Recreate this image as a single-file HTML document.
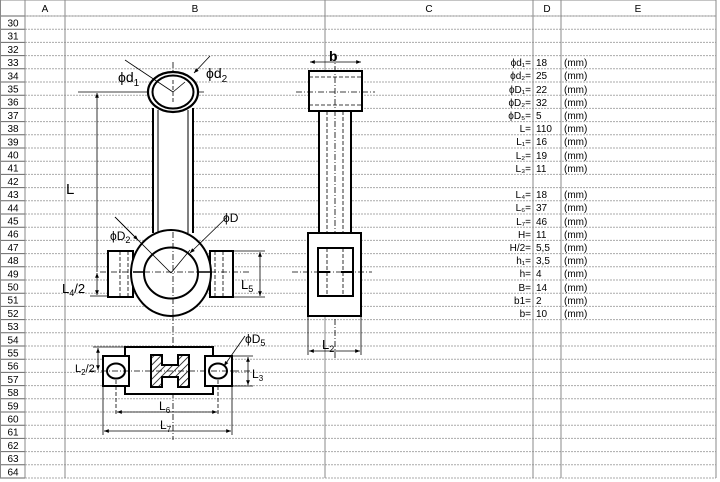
<!DOCTYPE html>
<html><head><meta charset="utf-8"><style>
body{margin:0;background:#fff}
svg{display:block;font-family:"Liberation Sans",Arial,sans-serif}
</style></head><body>
<svg width="720" height="482" viewBox="0 0 720 482" xmlns="http://www.w3.org/2000/svg">
<defs>
<marker id="a" viewBox="0 0 10 10" refX="10" refY="5" markerWidth="8" markerHeight="6" orient="auto-start-reverse"><path d="M0,1 L10,5 L0,9 z" fill="#000"/></marker>
<pattern id="h" width="5" height="5" patternUnits="userSpaceOnUse" patternTransform="rotate(45)"><line x1="0" y1="0" x2="0" y2="5" stroke="#000" stroke-width="1.5"/></pattern>
</defs>
<rect width="720" height="482" fill="#fff"/>
<!-- header -->
<rect x="0" y="0" width="716" height="16" fill="#fff" stroke="#888"/>
<g font-size="10" text-anchor="middle" fill="#000">
<text x="45" y="12">A</text><text x="195" y="12">B</text><text x="429" y="12">C</text><text x="547" y="12">D</text><text x="638" y="12">E</text>
</g>
<!-- row lines -->
<g id="rows" stroke="#aaa" stroke-width="1" stroke-dasharray="2,1">
</g>
<script>
var g=document.getElementById('rows'),ns='http://www.w3.org/2000/svg';
for(var i=0;i<=35;i++){var y=16+i*13.2;var l=document.createElementNS(ns,'line');l.setAttribute('x1',25);l.setAttribute('x2',716);l.setAttribute('y1',y);l.setAttribute('y2',y);g.appendChild(l);
var l2=document.createElementNS(ns,'line');l2.setAttribute('x1',0);l2.setAttribute('x2',25);l2.setAttribute('y1',y);l2.setAttribute('y2',y);l2.setAttribute('stroke','#666');l2.setAttribute('stroke-dasharray','none');g.appendChild(l2);
if(i<35){var t=document.createElementNS(ns,'text');t.setAttribute('x',13);t.setAttribute('y',y+10.5);t.setAttribute('font-size','10');t.setAttribute('text-anchor','middle');t.setAttribute('stroke','none');t.textContent=30+i;g.parentNode.appendChild(t);}}
</script>
<g stroke="#888" stroke-width="1">
<line x1="0.5" y1="0" x2="0.5" y2="478"/><line x1="25" y1="0" x2="25" y2="478"/><line x1="65" y1="0" x2="65" y2="478"/>
<line x1="325" y1="0" x2="325" y2="478"/><line x1="533" y1="0" x2="533" y2="478"/><line x1="561" y1="0" x2="561" y2="478"/>
<line x1="716" y1="0" x2="716" y2="478"/>
</g>
<!-- table -->
<g font-size="10" fill="#000">
<g text-anchor="end">
<text x="531" y="66">ϕd₁=</text><text x="531" y="79">ϕd₂=</text><text x="531" y="93">ϕD₁=</text><text x="531" y="106">ϕD₂=</text><text x="531" y="119">ϕD₅=</text>
<text x="531" y="132">L=</text><text x="531" y="145">L₁=</text><text x="531" y="159">L₂=</text><text x="531" y="172">L₃=</text>
<text x="531" y="198">L₄=</text><text x="531" y="211">L₆=</text><text x="531" y="225">L₇=</text><text x="531" y="238">H=</text><text x="531" y="251">H/2=</text>
<text x="531" y="264">h₁=</text><text x="531" y="277">h=</text><text x="531" y="291">B=</text><text x="531" y="304">b1=</text><text x="531" y="317">b=</text>
</g>
<g>
<text x="536" y="66">18</text><text x="536" y="79">25</text><text x="536" y="93">22</text><text x="536" y="106">32</text><text x="536" y="119">5</text>
<text x="536" y="132">110</text><text x="536" y="145">16</text><text x="536" y="159">19</text><text x="536" y="172">11</text>
<text x="536" y="198">18</text><text x="536" y="211">37</text><text x="536" y="225">46</text><text x="536" y="238">11</text><text x="536" y="251">5,5</text>
<text x="536" y="264">3,5</text><text x="536" y="277">4</text><text x="536" y="291">14</text><text x="536" y="304">2</text><text x="536" y="317">10</text>
</g>
<g>
<text x="564" y="66">(mm)</text><text x="564" y="79">(mm)</text><text x="564" y="93">(mm)</text><text x="564" y="106">(mm)</text><text x="564" y="119">(mm)</text>
<text x="564" y="132">(mm)</text><text x="564" y="145">(mm)</text><text x="564" y="159">(mm)</text><text x="564" y="172">(mm)</text>
<text x="564" y="198">(mm)</text><text x="564" y="211">(mm)</text><text x="564" y="225">(mm)</text><text x="564" y="238">(mm)</text><text x="564" y="251">(mm)</text>
<text x="564" y="264">(mm)</text><text x="564" y="277">(mm)</text><text x="564" y="291">(mm)</text><text x="564" y="304">(mm)</text><text x="564" y="317">(mm)</text>
</g>
</g>
<!-- front view -->
<g fill="none" stroke="#000">
<line x1="173" y1="62" x2="173" y2="440" stroke-dasharray="6,2,1,2" stroke-width="0.8"/>
<line x1="143" y1="92" x2="205" y2="92" stroke-dasharray="6,2,1,2" stroke-width="0.8"/>
<line x1="78" y1="92" x2="143" y2="92" stroke-width="0.8"/>
<rect x="153" y="108" width="40" height="125" fill="#fff" stroke="none"/>
<g stroke-width="2"><line x1="153" y1="108" x2="153" y2="233"/><line x1="193" y1="108" x2="193" y2="233"/></g>
<g stroke-width="1"><line x1="158" y1="110" x2="158" y2="233"/><line x1="188" y1="110" x2="188" y2="233"/></g>
<ellipse cx="173" cy="92" rx="25" ry="20" stroke-width="2.2" fill="#fff"/>
<ellipse cx="173" cy="92" rx="20.5" ry="16.5" stroke-width="2"/>
<line x1="173" y1="80" x2="173" y2="104" stroke-dasharray="4,2" stroke-width="0.8"/>
<line x1="125" y1="60" x2="173" y2="92" stroke-width="0.8"/>
<line x1="173" y1="92" x2="185" y2="82" stroke-width="0.8"/>
<line x1="210" y1="56" x2="194" y2="73" stroke-width="0.8" marker-end="url(#a)"/>
<!-- big end -->
<rect x="108" y="251" width="25" height="46" stroke-width="2" fill="#fff"/>
<rect x="210" y="251" width="23" height="46" stroke-width="2" fill="#fff"/>
<g stroke-dasharray="4,2" stroke-width="0.8"><line x1="120" y1="251" x2="120" y2="297"/><line x1="128" y1="251" x2="128" y2="297"/><line x1="215" y1="251" x2="215" y2="297"/><line x1="223" y1="251" x2="223" y2="297"/></g>
<ellipse cx="171" cy="273" rx="40" ry="43" stroke-width="2" fill="#fff"/>
<ellipse cx="171" cy="273" rx="27" ry="25.5" stroke-width="2"/>
<line x1="133" y1="272" x2="144" y2="272" stroke-width="1.5"/><line x1="198" y1="272" x2="210" y2="272" stroke-width="1.5"/>
<line x1="100" y1="272" x2="250" y2="272" stroke-dasharray="6,2,1,2" stroke-width="0.8"/>
<line x1="173" y1="232" x2="173" y2="320" stroke-dasharray="6,2,1,2" stroke-width="0.8"/>
<line x1="115" y1="217" x2="171" y2="273" stroke-width="0.8"/>
<line x1="171" y1="273" x2="190" y2="250" stroke-width="0.8"/>
<line x1="227" y1="217" x2="190" y2="253" stroke-width="0.8" marker-end="url(#a)"/>
<line x1="115" y1="217" x2="138" y2="240" stroke-width="0.8" marker-end="url(#a)"/>
<!-- L dims -->
<line x1="97" y1="272" x2="97" y2="93" stroke-width="0.8" marker-end="url(#a)"/>
<line x1="97" y1="295" x2="97" y2="273" stroke-width="0.8" marker-end="url(#a)" marker-start="url(#a)"/>
<line x1="90" y1="296" x2="108" y2="296" stroke-width="0.8"/>
<line x1="233" y1="251" x2="265" y2="251" stroke-width="0.8"/><line x1="233" y1="297" x2="265" y2="297" stroke-width="0.8"/>
<line x1="260" y1="252" x2="260" y2="296" stroke-width="0.8" marker-end="url(#a)" marker-start="url(#a)"/>
<!-- bottom view -->
<rect x="125" y="347" width="88" height="47" stroke-width="2" fill="#fff"/>
<rect x="103" y="356" width="26" height="30" stroke-width="2" fill="#fff"/>
<rect x="205" y="356" width="27" height="30" stroke-width="2" fill="#fff"/>
<ellipse cx="116" cy="371" rx="9" ry="7.5" stroke-width="2"/>
<ellipse cx="218" cy="371" rx="9" ry="7.5" stroke-width="2"/>
<path d="M151,355 H162 V365 H178 V355 H189 V387 H178 V377 H162 V387 H151 Z" fill="url(#h)" stroke-width="2"/>
<line x1="90" y1="371" x2="250" y2="371" stroke-dasharray="6,2,1,2" stroke-width="0.8"/>
<line x1="93" y1="347" x2="125" y2="347" stroke-width="0.8"/>
<line x1="98" y1="348" x2="98" y2="370" stroke-width="0.8" marker-end="url(#a)" marker-start="url(#a)"/>
<line x1="232" y1="356" x2="253" y2="356" stroke-width="0.8"/><line x1="232" y1="386" x2="253" y2="386" stroke-width="0.8"/>
<line x1="248" y1="357" x2="248" y2="385" stroke-width="0.8" marker-end="url(#a)" marker-start="url(#a)"/>
<line x1="245" y1="336" x2="224" y2="366" stroke-width="0.8" marker-end="url(#a)"/>
<line x1="116" y1="380" x2="116" y2="415" stroke-width="0.8" stroke-dasharray="4,2"/>
<line x1="218" y1="380" x2="218" y2="415" stroke-width="0.8" stroke-dasharray="4,2"/>
<line x1="103" y1="386" x2="103" y2="435" stroke-width="0.8"/><line x1="232" y1="386" x2="232" y2="435" stroke-width="0.8"/>
<line x1="117" y1="412" x2="217" y2="412" stroke-width="0.8" marker-end="url(#a)" marker-start="url(#a)"/>
<line x1="104" y1="431" x2="231" y2="431" stroke-width="0.8" marker-end="url(#a)" marker-start="url(#a)"/>
<!-- side view -->
<rect x="319" y="111" width="32" height="122" stroke-width="2" fill="#fff"/>
<g stroke-dasharray="4,2" stroke-width="0.8"><line x1="327" y1="111" x2="327" y2="233"/><line x1="343" y1="111" x2="343" y2="233"/></g>
<rect x="309" y="71" width="53" height="40" stroke-width="2" fill="#fff"/>
<g stroke-dasharray="4,2" stroke-width="0.8"><line x1="309" y1="77" x2="362" y2="77"/><line x1="309" y1="105" x2="362" y2="105"/></g>
<line x1="296" y1="92" x2="375" y2="92" stroke-dasharray="6,2,1,2" stroke-width="0.8"/>
<line x1="335" y1="55" x2="335" y2="360" stroke-dasharray="6,2,1,2" stroke-width="0.8"/>
<line x1="310" y1="62" x2="361" y2="62" stroke-width="0.8" marker-end="url(#a)" marker-start="url(#a)"/>
<rect x="308" y="233" width="53" height="83" stroke-width="2" fill="#fff"/>
<rect x="318" y="248" width="35" height="48" stroke-width="2"/>
<g stroke-dasharray="4,2" stroke-width="0.8"><line x1="327" y1="248" x2="327" y2="296"/><line x1="343" y1="248" x2="343" y2="296"/></g>
<line x1="318" y1="272" x2="330" y2="272" stroke-width="2"/><line x1="341" y1="272" x2="353" y2="272" stroke-width="2"/>
<line x1="292" y1="272" x2="372" y2="272" stroke-dasharray="6,2,1,2" stroke-width="0.8"/>
<line x1="308" y1="316" x2="308" y2="355" stroke-width="0.8"/><line x1="361" y1="316" x2="361" y2="355" stroke-width="0.8"/>
<line x1="309" y1="351" x2="360" y2="351" stroke-width="0.8" marker-end="url(#a)" marker-start="url(#a)"/>
</g>
<!-- labels -->
<g fill="#000" font-size="14">
<text x="118" y="82">ϕd<tspan font-size="10" dy="4">1</tspan></text>
<text x="206" y="78">ϕd<tspan font-size="10" dy="4">2</tspan></text>
<text x="329" y="61" font-weight="bold">b</text>
<text x="66" y="194" font-size="15">L</text>
<text x="223" y="222" font-size="12">ϕD</text>
<text x="110" y="240" font-size="12">ϕD<tspan font-size="9" dy="3">2</tspan></text>
<text x="62" y="293" font-size="13">L<tspan font-size="9" dy="3">4</tspan><tspan dy="-3">/2</tspan></text>
<text x="241" y="289" font-size="13">L<tspan font-size="9" dy="3">5</tspan></text>
<text x="245" y="343" font-size="12">ϕD<tspan font-size="9" dy="3">5</tspan></text>
<text x="75" y="372" font-size="11">L<tspan font-size="8" dy="3">2</tspan><tspan dy="-3">/2</tspan></text>
<text x="252" y="378" font-size="12">L<tspan font-size="8" dy="3">3</tspan></text>
<text x="159" y="410" font-size="12">L<tspan font-size="8" dy="3">6</tspan></text>
<text x="160" y="429" font-size="12">L<tspan font-size="8" dy="3">7</tspan></text>
<text x="322" y="349" font-size="13">L<tspan font-size="9" dy="3">2</tspan></text>
</g>
</svg>
</body></html>
